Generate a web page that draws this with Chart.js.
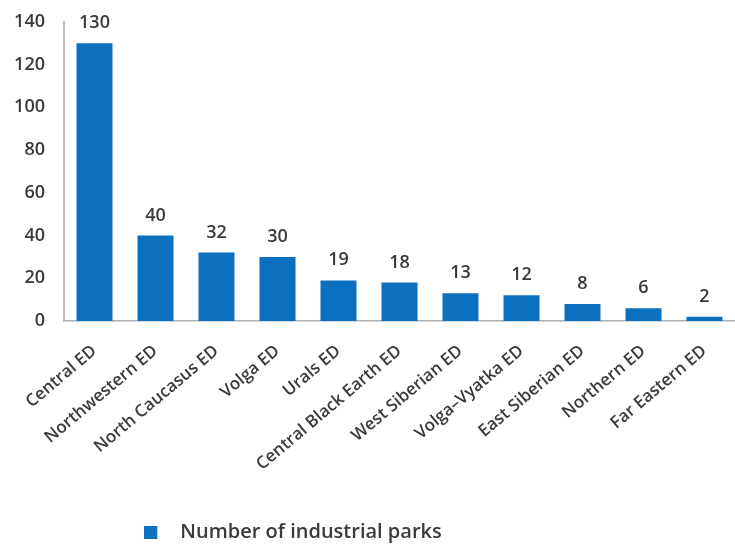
<!DOCTYPE html>
<html>
<head>
<meta charset="utf-8">
<script src="https://cdn.jsdelivr.net/npm/chart.js@4"></script>
<style>
  html, body { margin: 0; padding: 0; background: #fff; }
  #wrap { width: 735px; height: 546px; }
</style>
</head>
<body>
<div id="wrap"><canvas id="parksChart"></canvas></div>
<script>
// data
const districts = ['Central ED', 'Northwestern ED', 'North Caucasus ED', 'Volga ED', 'Urals ED',
  'Central Black Earth ED', 'West Siberian ED', 'Volga–Vyatka ED', 'East Siberian ED', 'Northern ED', 'Far Eastern ED'];
const parkCounts = [130, 40, 32, 30, 19, 18, 13, 12, 8, 6, 2];
const seriesName = 'Number of industrial parks';

const textColor = '#3a3a3a';
const barBlue = '#0a70bf';
const fontFamily = "'Open Sans', sans-serif";

// legend marker: small square with extra room on its right
const marker = document.createElement('canvas');
marker.width = 26; marker.height = 13;
const mctx = marker.getContext('2d');
mctx.fillStyle = barBlue;
mctx.fillRect(0, 0, 13, 13);

// value labels above each bar
const valueLabels = {
  id: 'valueLabels',
  afterDatasetsDraw(chart) {
    const ctx = chart.ctx;
    const meta = chart.getDatasetMeta(0);
    ctx.save();
    ctx.font = '600 18px ' + fontFamily;
    ctx.fillStyle = textColor;
    ctx.textAlign = 'center';
    ctx.textBaseline = 'alphabetic';
    meta.data.forEach((bar, i) => {
      ctx.fillText(chart.data.datasets[0].data[i], bar.x, bar.y - 15);
    });
    ctx.restore();
  }
};

// legend sits left of centre and a bit lower in the original
const legendShift = {
  id: 'legendShift',
  afterLayout(chart) {
    const lg = chart.legend;
    if (lg) { lg.left = 0; lg.right = 586; lg.top += 6; lg.bottom += 6; }
  }
};

new Chart(document.getElementById('parksChart'), {
  type: 'bar',
  data: {
    labels: districts,
    datasets: [{
      label: seriesName,
      data: parkCounts,
      backgroundColor: barBlue,
      barPercentage: 0.59,
      categoryPercentage: 1.0
    }]
  },
  options: {
    responsive: true, maintainAspectRatio: false, animation: false,
    layout: { padding: { top: 8, left: 8, right: 0, bottom: 0 } },
    plugins: {
      legend: {
        position: 'bottom',
        labels: {
          color: textColor, font: { size: 20, family: fontFamily, weight: '600' },
          usePointStyle: true, pointStyle: marker, pointStyleWidth: 26, boxHeight: 13, padding: 3
        }
      },
      tooltip: { enabled: false }
    },
    scales: {
      x: {
        grid: { display: false },
        border: { color: '#b0b0b0', width: 1.5 },
        ticks: { color: textColor, font: { size: 17, family: fontFamily, weight: '600' }, minRotation: 40, maxRotation: 40, padding: 12, autoSkip: false },
        afterFit: s => { s.height = 192; }
      },
      y: {
        min: 0, max: 140,
        grid: { display: false },
        border: { color: '#bdbdbd', width: 2 },
        ticks: { stepSize: 20, color: textColor, font: { size: 18, family: fontFamily, weight: '600' }, padding: 11 },
        afterFit: s => { s.width = 56; }
      }
    }
  },
  plugins: [valueLabels, legendShift]
});
</script>
</body>
</html>
